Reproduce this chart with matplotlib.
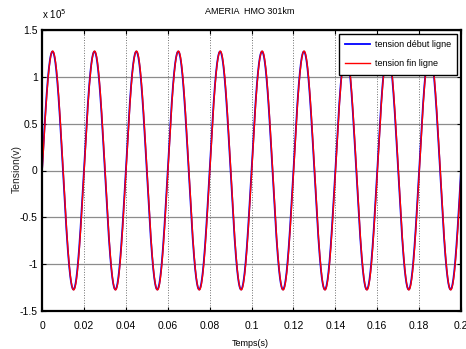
import numpy as np
import matplotlib
matplotlib.use("Agg")
import matplotlib.pyplot as plt

plt.rcParams['font.family'] = ['Liberation Sans Narrow', 'Liberation Sans', 'DejaVu Sans']

# Signal parameters (line voltage, 50 Hz)
freq_hz = 50.0
amp_debut = 1.27e5      # tension début ligne, peak (V)
amp_fin = 1.275e5       # tension fin ligne, peak (V)
phase_fin = 0.03        # small phase shift at line end (rad)
t_end = 0.2

x_ticks = [0, 0.02, 0.04, 0.06, 0.08, 0.1, 0.12, 0.14, 0.16, 0.18, 0.2]
x_tick_labels = ['0', '0.02', '0.04', '0.06', '0.08', '0.1', '0.12', '0.14', '0.16', '0.18', '0.2']
y_ticks = [-1.5, -1, -0.5, 0, 0.5, 1, 1.5]
y_tick_labels = ['-1.5', '-1', '-0.5', '0', '0.5', '1', '1.5']

t = np.linspace(0, t_end, 4001)
v_debut = amp_debut * np.sin(2 * np.pi * freq_hz * t)
v_fin = amp_fin * np.sin(2 * np.pi * freq_hz * t - phase_fin)

W, H = 466, 349
fig = plt.figure(figsize=(W / 100, H / 100), dpi=100)
ax = fig.add_axes([42 / W, 1 - 311 / H, 419 / W, 281 / H])

scale = 1e5
ax.plot(t, v_debut / scale, color='#0000ff', lw=1.3, label='tension début ligne')
ax.plot(t, v_fin / scale, color='#ff0000', lw=1.0, label='tension fin ligne')

ax.set_xlim(0, t_end)
ax.set_ylim(-1.5, 1.5)
ax.set_xticks(x_ticks)
ax.set_xticklabels(x_tick_labels)
ax.set_yticks(y_ticks)
ax.set_yticklabels(y_tick_labels)
ax.tick_params(direction='in', length=3, width=0.8, labelsize=7.5,
               top=True, right=True, colors='black')
ax.tick_params(axis='x', pad=7)
ax.tick_params(axis='y', pad=3)

for xv in x_ticks:
    ax.axvline(xv, color='#707070', lw=0.7, ls=':', zorder=0)
for yv in y_ticks:
    ax.axhline(yv, color='#8c8c8c', lw=0.9, ls='-', zorder=0)

for sp in ax.spines.values():
    sp.set_linewidth(1.6)
    sp.set_color('black')

fig.text(250 / W, 1 - 11 / H, 'AMERIA  HMO 301km', fontsize=6.5, ha='center', va='center')
fig.text(250 / W, 1 - 344 / H, 'Temps(s)', fontsize=6.5, ha='center', va='center')
fig.text(17 / W, 1 - 169 / H, 'Tension(v)', fontsize=7.5, ha='center', va='center',
         rotation=90, color='#222222')

fig.text(42 / W, 1 - 21 / H, r'x 10$^{5}$', fontsize=7, ha='left', va='bottom')

leg = ax.legend(loc='upper right', fontsize=6.5, frameon=True, fancybox=False,
                borderaxespad=0.4, handlelength=2.8, handletextpad=0.5,
                borderpad=0.7, labelspacing=1.15)
leg.get_frame().set_edgecolor('black')
leg.get_frame().set_linewidth(1.0)
leg.get_frame().set_alpha(1.0)

fig.savefig('out.png', dpi=100)
